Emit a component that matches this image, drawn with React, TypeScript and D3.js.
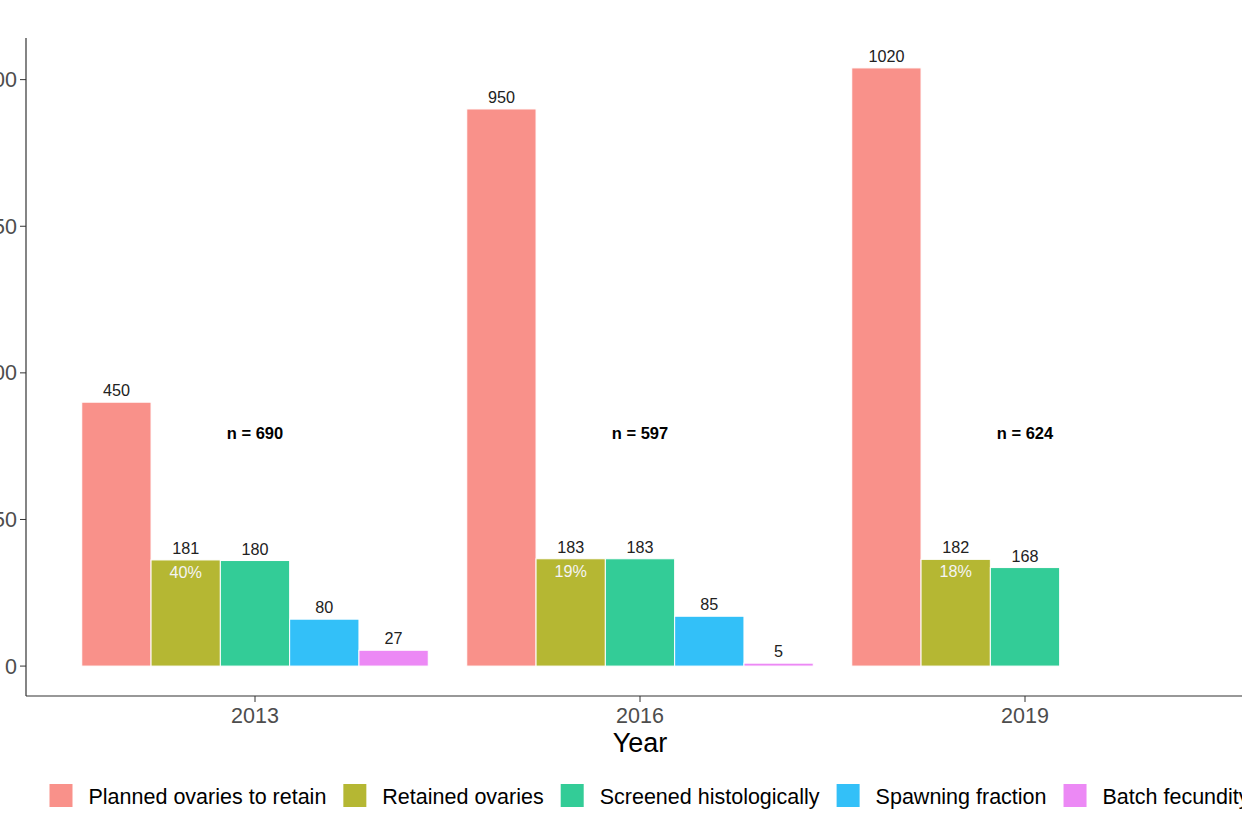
// App.tsx
import React, { useEffect, useRef } from 'react';
import { select, scaleLinear, scaleBand } from 'd3';

const years = ['2013', '2016', '2019'];
const stages = [
  'Planned ovaries to retain',
  'Retained ovaries',
  'Screened histologically',
  'Spawning fraction',
  'Batch fecundity',
];
const planned = [450, 950, 1020];
const retained = [181, 183, 182];
const screened = [180, 183, 168];
const spawning: (number | null)[] = [80, 85, null];
const batch: (number | null)[] = [27, 5, null];
const retainedPct = ['40%', '19%', '18%'];
const sampleN = ['n = 690', 'n = 597', 'n = 624'];
const sampleNAt = 400;
const yTicks = [0, 250, 500, 750, 1000];
const stageColors = ['#F8766D', '#A3A500', '#00BF7D', '#00B0F6', '#E76BF3'];

const W = 1242;
const H = 815;

const App: React.FC = () => {
  const svgRef = useRef<SVGSVGElement | null>(null);

  useEffect(() => {
    if (!svgRef.current) return;
    const svg = select(svgRef.current);
    svg.selectAll('*').remove();

    const font = '"Liberation Sans", Arial, sans-serif';
    const series = [planned, retained, screened, spawning, batch];

    // discrete x like ggplot: positions 1..3, limits 0.4..3.6
    const x = scaleLinear().domain([0.4, 3.6]).range([24, 1256]);
    const dodge = scaleBand<string>().domain(stages).range([-0.45, 0.45]);
    const maxV = 1020;
    const y = scaleLinear().domain([-0.05 * maxV, 1.05 * maxV]).range([696, 38]);

    const g = svg.append('g');

    // bars
    years.forEach((yr, i) => {
      series.forEach((s, k) => {
        const v = s[i];
        if (v == null) return;
        const x0 = x(i + 1 + (dodge(stages[k]) as number));
        const x1 = x(i + 1 + (dodge(stages[k]) as number) + dodge.bandwidth());
        g.append('rect')
          .attr('x', x0)
          .attr('y', y(v))
          .attr('width', x1 - x0)
          .attr('height', y(0) - y(v))
          .attr('fill', stageColors[k])
          .attr('fill-opacity', 0.8)
          .attr('stroke', '#fff')
          .attr('stroke-width', 1);
        g.append('text')
          .attr('x', (x0 + x1) / 2)
          .attr('y', y(v) - 6)
          .attr('text-anchor', 'middle')
          .attr('font-family', font)
          .attr('font-size', 16.2)
          .attr('fill', '#222')
          .text(v);
        if (k === 1) {
          g.append('text')
            .attr('x', (x0 + x1) / 2)
            .attr('y', y(v) + 18)
            .attr('text-anchor', 'middle')
            .attr('font-family', font)
            .attr('font-size', 16.2)
            .attr('fill', '#f4f4f4')
            .text(retainedPct[i]);
        }
      });
      g.append('text')
        .attr('x', x(i + 1))
        .attr('y', y(sampleNAt) + 7)
        .attr('text-anchor', 'middle')
        .attr('font-family', font)
        .attr('font-size', 16.5)
        .attr('font-weight', 'bold')
        .attr('fill', '#000')
        .text(sampleN[i]);
    });

    // axes
    const axisColor = '#333';
    g.append('line')
      .attr('x1', 26).attr('x2', 26)
      .attr('y1', 38).attr('y2', 696)
      .attr('stroke', axisColor).attr('stroke-width', 1.2);
    g.append('line')
      .attr('x1', 26).attr('x2', W)
      .attr('y1', 696).attr('y2', 696)
      .attr('stroke', axisColor).attr('stroke-width', 1.2);

    yTicks.forEach((t) => {
      g.append('line')
        .attr('x1', 20).attr('x2', 26)
        .attr('y1', y(t)).attr('y2', y(t))
        .attr('stroke', axisColor);
      g.append('text')
        .attr('x', 17)
        .attr('y', y(t) + 7.5)
        .attr('text-anchor', 'end')
        .attr('font-family', font)
        .attr('font-size', 21.5)
        .attr('fill', '#4d4d4d')
        .text(t);
    });

    years.forEach((yr, i) => {
      g.append('line')
        .attr('x1', x(i + 1)).attr('x2', x(i + 1))
        .attr('y1', 696).attr('y2', 702)
        .attr('stroke', axisColor);
      g.append('text')
        .attr('x', x(i + 1))
        .attr('y', 723)
        .attr('text-anchor', 'middle')
        .attr('font-family', font)
        .attr('font-size', 21.5)
        .attr('fill', '#4d4d4d')
        .text(yr);
    });

    g.append('text')
      .attr('x', x(2))
      .attr('y', 751.5)
      .attr('text-anchor', 'middle')
      .attr('font-family', font)
      .attr('font-size', 27)
      .attr('fill', '#000')
      .text('Year');

    // legend
    const legend = g.append('g');
    let lx = 49.5;
    const ly = 795.5;
    stages.forEach((s, k) => {
      legend.append('rect')
        .attr('x', lx)
        .attr('y', ly - 11.5)
        .attr('width', 23)
        .attr('height', 23)
        .attr('fill', stageColors[k])
        .attr('fill-opacity', 0.8);
      const t = legend.append('text')
        .attr('x', lx + 39)
        .attr('y', ly + 8)
        .attr('font-family', font)
        .attr('font-size', 21.5)
        .attr('fill', '#000')
        .text(s);
      const w = (t.node() as SVGTextElement).getComputedTextLength();
      lx = lx + 39 + w + 17;
    });
  }, []);

  return (
    <svg
      ref={svgRef}
      width={W}
      height={H}
      style={{ position: 'absolute', left: 0, top: 0, background: '#fff' }}
    ></svg>
  );
};

export default App;
